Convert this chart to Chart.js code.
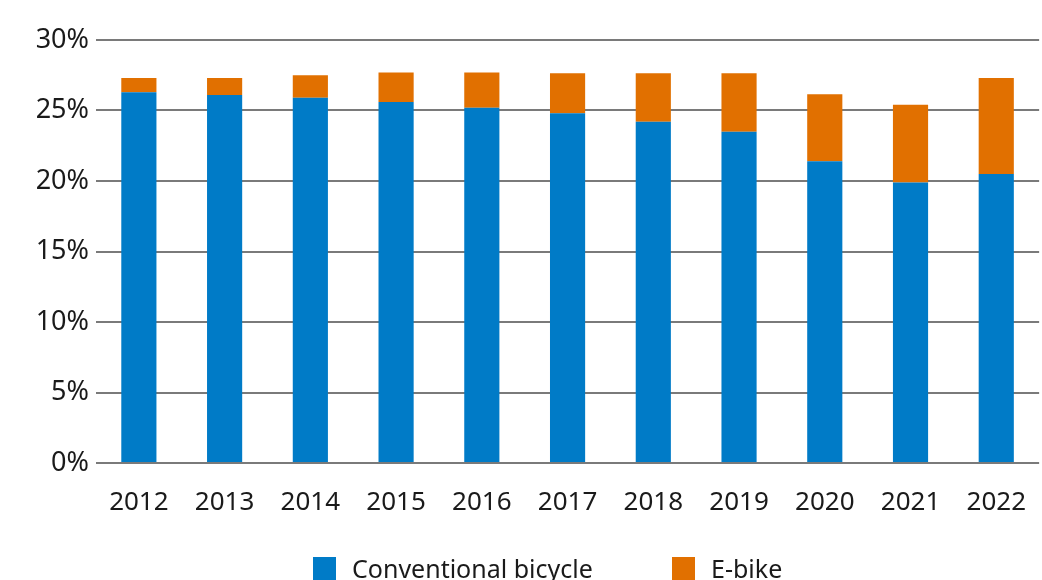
<!DOCTYPE html>
<html>
<head>
<meta charset="utf-8">
<script src="https://cdn.jsdelivr.net/npm/chart.js@4/dist/chart.umd.min.js"></script>
<style>
  body { margin: 0; background: #fff; }
  #wrap { position: relative; width: 1042px; height: 580px; overflow: hidden; }
  #legend { position: absolute; left: 313px; top: 551px; display: flex; font-family: "Noto Sans", sans-serif; font-size: 25px; color: #1a1a1a; }
  .item { display: flex; align-items: center; }
  .item:first-child { width: 359px; }
  .box { width: 23px; height: 23px; margin-right: 16px; }
</style>
</head>
<body>
<div id="wrap">
  <canvas id="chart" width="1042" height="580"></canvas>
  <div id="legend"></div>
</div>
<script>
const years = ['2012', '2013', '2014', '2015', '2016', '2017', '2018', '2019', '2020', '2021', '2022'];
const conventional = [26.3, 26.1, 25.9, 25.6, 25.2, 24.8, 24.2, 23.5, 21.4, 19.9, 20.5];
const ebike = [1.0, 1.2, 1.6, 2.1, 2.5, 2.85, 3.45, 4.15, 4.75, 5.5, 6.8];
const yTicks = [0, 5, 10, 15, 20, 25, 30];

const blue = '#007bc7';
const orange = '#e17000';

const ctx = document.getElementById('chart');

new Chart(ctx, {
    type: 'bar',
    data: {
        labels: years,
        datasets: [
            { label: 'Conventional bicycle', data: conventional, backgroundColor: blue },
            { label: 'E-bike', data: ebike, backgroundColor: orange }
        ]
    },
    options: {
        responsive: false,
        animation: false,
        layout: { padding: { top: 40, right: 0, bottom: 0, left: 0 } },
        datasets: {
            bar: { barPercentage: 1, categoryPercentage: 0.41 }
        },
        plugins: {
            legend: { display: false },
            tooltip: { enabled: false }
        },
        scales: {
            x: {
                stacked: true,
                grid: { display: false },
                border: { display: false },
                ticks: {
                    color: '#1a1a1a',
                    padding: 16,
                    maxRotation: 0,
                    font: { family: 'Noto Sans', size: 26 }
                },
                afterFit: (scale) => { scale.height = 117; }
            },
            y: {
                stacked: true,
                min: 0,
                max: 30,
                afterBuildTicks: (scale) => {
                    scale.ticks = yTicks.map(v => ({ value: v }));
                },
                grid: { color: '#7a7a7a', lineWidth: 2, drawTicks: false },
                border: { display: false },
                ticks: {
                    color: '#1a1a1a',
                    padding: 7,
                    font: { family: 'Noto Sans', size: 27 },
                    callback: (v) => v + '%'
                },
                afterFit: (scale) => { scale.width = 96; }
            }
        }
    }
});

// legend as plain html below the plot
const legend = document.getElementById('legend');
[['Conventional bicycle', blue], ['E-bike', orange]].forEach(([name, col]) => {
    const item = document.createElement('div');
    item.className = 'item';
    item.innerHTML = '<span class="box" style="background:' + col + '"></span><span>' + name + '</span>';
    legend.appendChild(item);
});
</script>
</body>
</html>
